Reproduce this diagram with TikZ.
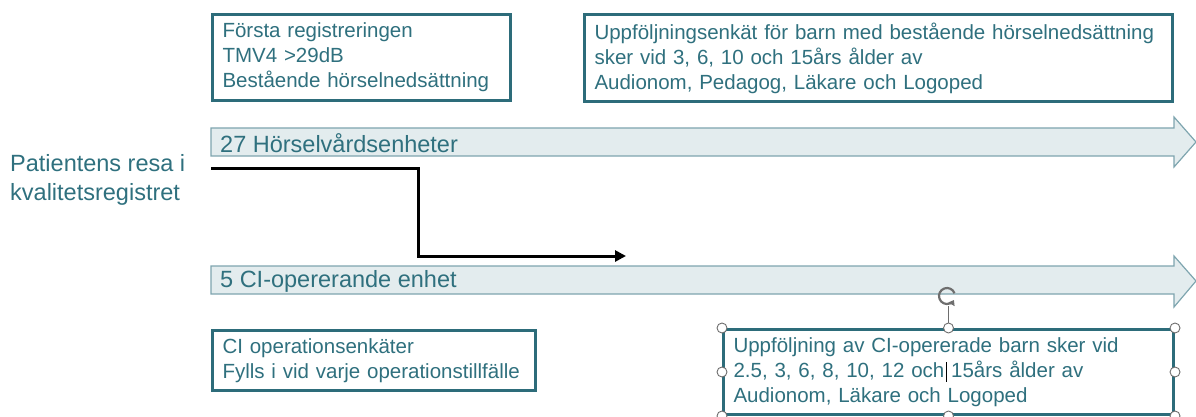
\documentclass[tikz,border=0pt]{standalone}
\usepackage{fontspec}
\setmainfont{Liberation Sans}
\usetikzlibrary{arrows.meta}
\definecolor{tealtext}{RGB}{47,112,126}
\definecolor{tealline}{RGB}{45,108,122}
\definecolor{arrowfill}{RGB}{227,236,238}
\definecolor{arrowline}{RGB}{126,165,175}
\definecolor{handlegray}{RGB}{110,110,110}
\tikzset{
  box/.style={draw=tealline, line width=3pt, fill=white, anchor=north west,
    inner xsep=10pt, inner ysep=0pt, align=left, text=tealtext,
    font=\fontsize{20.5}{25}\selectfont},
  band/.style={fill=arrowfill, draw=arrowline, line width=1.2pt},
  bandtext/.style={anchor=west, text=tealtext, font=\fontsize{23.5}{26}\selectfont, inner sep=0pt},
  conn/.style={draw=black, line width=3pt, -{Triangle[length=11pt,width=11pt]}},
  handle/.style={circle, draw=handlegray, fill=white, line width=0.9pt, minimum size=10pt, inner sep=0pt},
}
\begin{document}
\begin{tikzpicture}[x=1pt,y=-1pt]
\useasboundingbox (0,0) rectangle (1196,417);
% arrows (bands)
\draw[band] (211,128) -- (1174,128) -- (1174,117) -- (1196,142) -- (1174,167) -- (1174,156) -- (211,156) -- cycle;
\draw[band] (211,266) -- (1174,266) -- (1174,256) -- (1196,281) -- (1174,307) -- (1174,294) -- (211,294) -- cycle;
\node[bandtext] (t1) at (220,143) {27 Hörselvårdsenheter};
\node[bandtext] (t2) at (220,281) {5 CI-opererande enhet};
% left label
\node[anchor=west, align=left, text=tealtext, font=\fontsize{23.5}{29}\selectfont, inner sep=0pt] (lab) at (10,180) {Patientens resa i\\kvalitetsregistret};
% boxes
\node[box, minimum width=298pt, minimum height=86pt, text width=278pt] (b1) at (211,13)
  {Första registreringen\\TMV4 >29dB\\Bestående hörselnedsättning};
\node[box, minimum width=588pt, minimum height=87pt, text width=568pt] (b2) at (583,13)
  {Uppföljningsenkät för barn med bestående hörselnedsättning\\sker vid 3, 6, 10 och 15års ålder av\\Audionom, Pedagog, Läkare och Logoped};
\node[box, minimum width=323pt, minimum height=60pt, text width=303pt] (b3) at (211,329)
  {CI operationsenkäter\\Fylls i vid varje operationstillfälle};
\node[box, minimum width=450pt, minimum height=85pt, text width=430pt] (b4) at (722,328)
  {Uppföljning av CI-opererade barn sker vid\\2.5, 3, 6, 8, 10, 12 och 15års ålder av\\Audionom, Läkare och Logoped};
% connector
\coordinate (s) at (211,168);
\coordinate (e) at (626,256);
\draw[conn] (s) -- (418,168) |- (e);
% selection handles
\draw[handlegray, line width=0.8pt] (b4.north) -- ++(0,-22);
\node[handle] (h1) at (b4.north west) {};
\node[handle] (h2) at (b4.north) {};
\node[handle] (h3) at (b4.north east) {};
\node[handle] (h4) at (b4.west) {};
\node[handle] (h5) at (b4.east) {};
\node[handle] (h6) at (b4.south west) {};
\node[handle] (h7) at (b4.south) {};
\node[handle] (h8) at (b4.south east) {};
\draw[handlegray, line width=2.2pt, -{Triangle[length=5pt,width=7pt]}] (947,296) ++(20:8pt) arc (20:330:8pt);
\draw[black, line width=0.6pt] (946,362) -- (946,382);
\end{tikzpicture}
\end{document}
